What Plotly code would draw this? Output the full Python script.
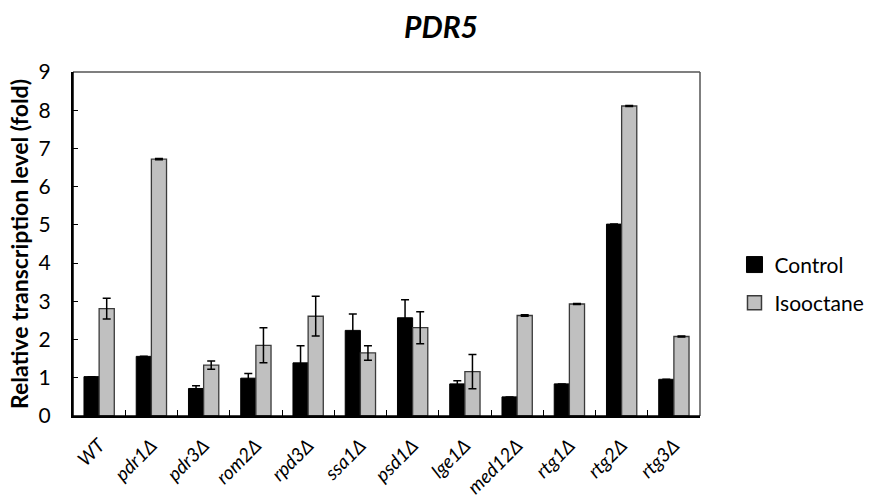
import plotly.graph_objects as go

categories = ["WT", "pdr1Δ", "pdr3Δ", "rom2Δ", "rpd3Δ", "ssa1Δ", "psd1Δ",
              "lge1Δ", "med12Δ", "rtg1Δ", "rtg2Δ", "rtg3Δ"]
control = [1.03, 1.56, 0.72, 0.99, 1.39, 2.24, 2.57, 0.84, 0.50, 0.84, 5.02, 0.96]
control_err = [0.0, 0.0, 0.07, 0.12, 0.45, 0.43, 0.47, 0.08, 0.0, 0.0, 0.0, 0.0]
isooctane = [2.81, 6.72, 1.33, 1.85, 2.61, 1.65, 2.31, 1.16, 2.63, 2.93, 8.11, 2.08]
isooctane_err = [0.27, 0.015, 0.11, 0.46, 0.52, 0.19, 0.42, 0.45, 0.02, 0.015, 0.015, 0.015]
y_ticks = [0, 1, 2, 3, 4, 5, 6, 7, 8, 9]
series_names = ["Control", "Isooctane"]

FONT = "Lato"
CTRL_COLOR = "black"
ISO_COLOR = "#C0C0C0"
ISO_EDGE = "#3a3a3a"
n = len(categories)

fig = go.Figure()
fig.add_trace(go.Bar(
    name=series_names[0], x=categories, y=control,
    marker=dict(color=CTRL_COLOR, line=dict(color="black", width=1)),
    error_y=dict(type="data", array=control_err, color="black", thickness=1.5, width=4),
    showlegend=False,
))
fig.add_trace(go.Bar(
    name=series_names[1], x=categories, y=isooctane,
    marker=dict(color=ISO_COLOR, line=dict(color=ISO_EDGE, width=1.3)),
    error_y=dict(type="data", array=isooctane_err, color="black", thickness=1.5, width=4),
    showlegend=False,
))
# legend entries with larger square symbols
fig.add_trace(go.Scatter(
    name=series_names[0], x=[None], y=[None], mode="markers",
    marker=dict(symbol="square", size=16, color=CTRL_COLOR, line=dict(color="black", width=1)),
    legendgroup="c",
))
fig.add_trace(go.Scatter(
    name=series_names[1], x=[None], y=[None], mode="markers",
    marker=dict(symbol="square", size=14, color=ISO_COLOR, line=dict(color=ISO_EDGE, width=1.5)),
    legendgroup="i",
))
# helper trace for the label-carrying axes (separate subplot over the same area)
fig.add_trace(go.Scatter(x=[None], y=[None], xaxis="x2", yaxis="y2",
                         showlegend=False, hoverinfo="skip"))

fig.update_layout(
    width=882, height=501,
    margin=dict(l=73, r=144, t=72, b=85),
    paper_bgcolor="white", plot_bgcolor="rgba(0,0,0,0)",
    barmode="group", bargap=0.42, bargroupgap=0.0,
    font=dict(family=FONT, color="black"),
    title=dict(text="<b><i>PDR5</i></b>", x=0.5, xanchor="center", y=0.945, yanchor="middle",
               font=dict(size=30, family=FONT, color="black")),
    showlegend=True,
    legend=dict(x=1.055, y=0.384, xanchor="left", yanchor="middle",
                font=dict(size=21, family=FONT, color="black"),
                tracegroupgap=8, traceorder="grouped", bgcolor="rgba(0,0,0,0)",
                itemwidth=30),
    # main axes: visible lines and inside ticks, no labels
    xaxis=dict(
        type="category", tickson="boundaries", ticks="inside", ticklen=6,
        tickcolor="black", tickwidth=1.3, automargin=False, domain=[0, 1],
        showline=True, linecolor="black", linewidth=1.5,
        showticklabels=False, showgrid=False, zeroline=False,
    ),
    yaxis=dict(
        range=[0, 9], tickvals=y_ticks, ticks="inside", ticklen=5,
        tickcolor="black", tickwidth=1.3, automargin=False, domain=[0, 1],
        showline=True, linecolor="black", linewidth=1.5,
        showticklabels=False, showgrid=False, zeroline=False,
    ),
    # label axes, pushed away from the plot by transparent outside ticks
    xaxis2=dict(
        anchor="y2", domain=[0, 1], side="bottom", type="linear",
        range=[-0.5, n - 0.5], tickmode="array",
        tickvals=list(range(n)), ticktext=categories,
        ticks="outside", ticklen=10, tickcolor="rgba(0,0,0,0)",
        tickangle=-45, automargin=False,
        tickfont=dict(size=19, family=FONT, style="italic", color="black"),
        showline=False, showgrid=False, zeroline=False,
    ),
    yaxis2=dict(
        anchor="x2", domain=[0, 1], side="left", range=[0, 9],
        tickmode="array", tickvals=y_ticks,
        ticks="outside", ticklen=17, tickcolor="rgba(0,0,0,0)",
        automargin=False,
        tickfont=dict(size=21, family=FONT, color="black"),
        showline=False, showgrid=False, zeroline=False,
        title=dict(text="<b>Relative transcription level (fold)</b>",
                   font=dict(size=23, family=FONT, color="black"), standoff=3),
    ),
    shapes=[
        dict(type="line", xref="paper", yref="paper", x0=0, x1=1, y0=1, y1=1,
             line=dict(color="#555555", width=1.5)),
        dict(type="line", xref="paper", yref="paper", x0=1, x1=1, y0=0, y1=1,
             line=dict(color="#555555", width=1.5)),
        # plot frame left and bottom edges (black)
        dict(type="line", xref="paper", yref="paper", x0=0, x1=0, y0=0, y1=1,
             line=dict(color="black", width=1.5), layer="above"),
        dict(type="line", xref="paper", yref="paper", x0=0, x1=1, y0=0, y1=0,
             line=dict(color="black", width=1.5), layer="above"),
    ],
)

fig.write_html("out.html", config={"displayModeBar": False},
               post_script="document.body.style.margin='0';")
